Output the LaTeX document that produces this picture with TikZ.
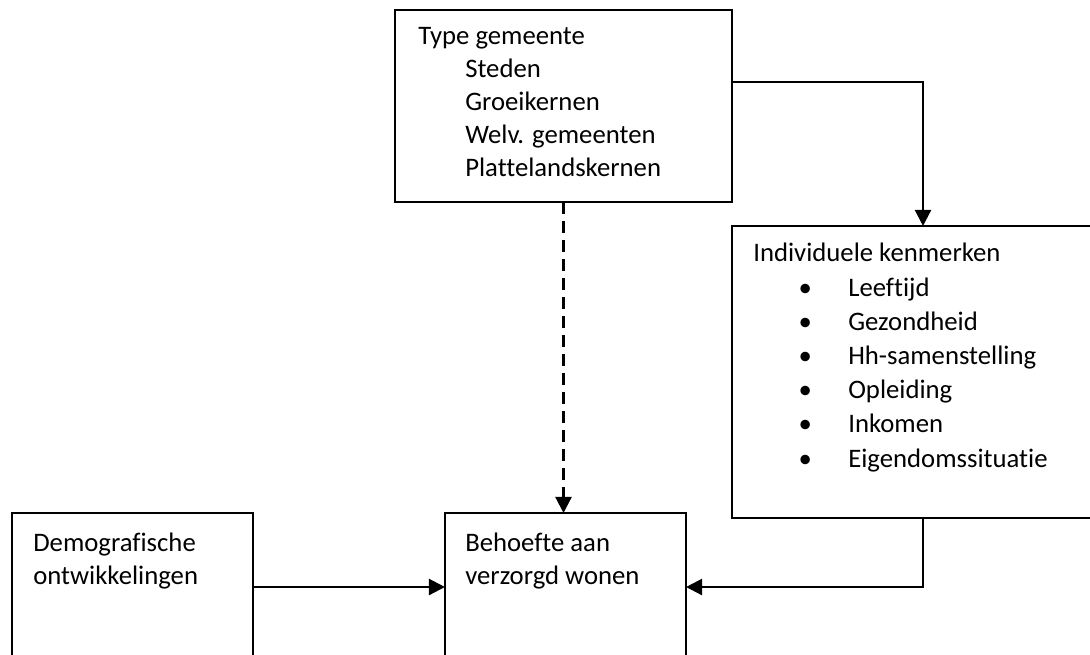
\documentclass[tikz,border=0pt]{standalone}
\usepackage{fontspec}
\setmainfont{Carlito}[Ligatures=CommonOff]
\usetikzlibrary{arrows.meta,positioning}
\newcommand{\subind}{\hspace*{1.175cm}}
\newcommand{\blt}[1]{\hspace*{1.15cm}\makebox[0.3cm][c]{\textbullet}\hspace*{0.925cm}#1}

\begin{document}
\begin{tikzpicture}[x=0.025cm,y=-0.025cm,
  box/.style={rectangle,draw=black,line width=1.6pt,inner sep=0pt,outer sep=0pt},
  txt/.style={anchor=base west,inner sep=0pt,align=left,
              font=\fontsize{19}{23.3}\selectfont},
  arr/.style={-{Triangle[length=0.4cm,width=0.4cm]},line width=1.6pt},
  dsh/.style={arr,dash pattern=on 8.5pt off 5pt}]
\useasboundingbox (0,0) rectangle (1090,654);
\clip (0,0) rectangle (1090,654);
%% ── Boxes ───────────────────────────────────────────────────────────────
\node[box,minimum width=8.425cm,minimum height=4.8cm](type) at (563.5,106) {};
\node[box,minimum width=9.55cm,minimum height=7.3cm](kenm) at (923,372) {};
\node[box,minimum width=6.025cm,minimum height=3.7cm](demo) at (132.5,587) {};
\node[box,minimum width=6.025cm,minimum height=3.7cm](behoefte) at (565.5,587) {};
%% ── Box texts (anchored at the baseline of the last line) ──────────────
\node[txt](typetxt) at (418,176)
  {Type gemeente\\
   \subind Steden\\
   \subind Groeikernen\\
   \subind Welv. gemeenten\\
   \subind Plattelandskernen};
\node[txt](kenmtxt) at (753,467)
  {Individuele kenmerken\\[1pt]
   \blt{Leeftijd}\\[1pt]
   \blt{Gezondheid}\\[1pt]
   \blt{Hh-samenstelling}\\[1pt]
   \blt{Opleiding}\\[1pt]
   \blt{Inkomen}\\[1pt]
   \blt{Eigendomssituatie}};
\node[txt](demotxt) at (33,584) {Demografische\\ontwikkelingen};
\node[txt](behoeftetxt) at (465,584) {Behoefte aan\\verzorgd wonen};
%% ── Connectors ──────────────────────────────────────────────────────────
\draw[arr]([yshift=-1.8cm]type.north east) -| (kenm.north);
\draw[dsh](type.south) -- (type.south |- behoefte.north);
\draw[arr](demo.east) -- (behoefte.west);
\draw[arr](kenm.south) |- (behoefte.east);
\end{tikzpicture}
\end{document}
